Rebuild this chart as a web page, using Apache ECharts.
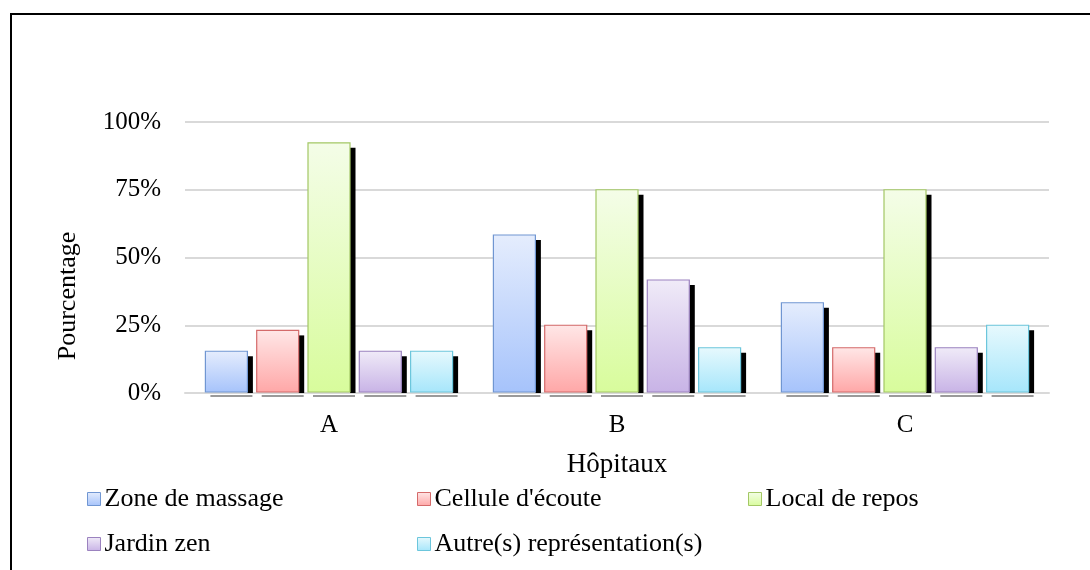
<!DOCTYPE html>
<html>
<head>
<meta charset="utf-8">
<script src="https://cdn.jsdelivr.net/npm/echarts@6/dist/echarts.min.js"></script>
<style>
html,body{margin:0;padding:0;background:#fff;}
#chart{width:1090px;height:570px;}
</style>
</head>
<body>
<div id="chart"></div>
<script>
const categories = ['A', 'B', 'C'];
const seriesNames = ['Zone de massage', "Cellule d'écoute", 'Local de repos', 'Jardin zen', 'Autre(s) représentation(s)'];
const zoneMassage = [0.154, 0.583, 0.333];
const celluleEcoute = [0.231, 0.25, 0.167];
const localRepos = [0.923, 0.75, 0.75];
const jardinZen = [0.154, 0.417, 0.167];
const autres = [0.154, 0.167, 0.25];
const yTicks = [0, 0.25, 0.5, 0.75, 1];

const allValues = [zoneMassage, celluleEcoute, localRepos, jardinZen, autres];
const palette = [
  {top: '#e5edfd', bottom: '#a6c3fb', border: '#7096d2'},
  {top: '#ffe7e7', bottom: '#ffa7a7', border: '#d46a6a'},
  {top: '#f4fde8', bottom: '#d8fc9c', border: '#a3c765'},
  {top: '#f0ebf8', bottom: '#c8b3e6', border: '#9b82bf'},
  {top: '#e7f9fd', bottom: '#a6e6fb', border: '#6cc6dc'}
];
function grad(p) {
  return new echarts.graphic.LinearGradient(0, 0, 0, 1, [
    {offset: 0, color: p.top}, {offset: 1, color: p.bottom}
  ]);
}
const FONT = 'Liberation Serif';
const BAR_FRAC = 42 / 288;
const PITCH_FRAC = 51.3 / 288;

function renderBar(params, api) {
  const i = params.seriesIndex;
  const cat = api.value(0);
  const val = api.value(1);
  const base = api.coord([cat, 0]);
  const top = api.coord([cat, val]);
  const band = api.size([1, 0])[0];
  const w = band * BAR_FRAC;
  const pitch = band * PITCH_FRAC;
  const cx = base[0] + (i - 2) * pitch;
  const x = cx - w / 2;
  const y0 = base[1];
  const y1 = top[1];
  const p = palette[i];
  return {
    type: 'group',
    children: [
      {type: 'rect', shape: {x: x + w, y: y1 + 5, width: 5.5, height: Math.max(0, y0 - y1 - 5)}, style: {fill: '#000'}},
      {type: 'rect', shape: {x: x + 5, y: y0 + 2, width: w, height: 2}, style: {fill: '#9a9a9a'}},
      {type: 'rect', shape: {x: x, y: y1, width: w, height: y0 - y1 - 1}, style: {fill: grad(p), stroke: p.border, lineWidth: 1.2}}
    ]
  };
}

const series = seriesNames.map((name, i) => ({
  type: 'custom',
  name: name,
  renderItem: renderBar,
  itemStyle: {color: grad(palette[i]), borderColor: palette[i].border, borderWidth: 1},
  data: categories.map((c, k) => [k, allValues[i][k]]),
  encode: {x: 0, y: 1},
  z: 3
}));

const legendPos = [[87, 484], [417, 484], [748, 484], [87, 529], [417, 529]];
const legends = seriesNames.map((name, i) => ({
  data: [{name: name, itemStyle: {color: grad(palette[i]), borderColor: palette[i].border, borderWidth: 1}}],
  left: legendPos[i][0],
  top: legendPos[i][1],
  icon: 'rect',
  itemWidth: 13,
  itemHeight: 13,
  itemGap: 0,
  padding: 0,
  selectedMode: false,
  textStyle: {fontFamily: FONT, fontSize: 26, color: '#000', padding: [0, 0, 0, -1], lineHeight: 30}
}));

const chart = echarts.init(document.getElementById('chart'), null, {renderer: 'canvas'});
chart.setOption({
  animation: false,
  backgroundColor: '#fff',
  grid: {left: 185, right: 41, top: 122, bottom: 177},
  xAxis: {
    type: 'category',
    data: categories,
    axisLine: {show: true, lineStyle: {color: '#d9d9d9', width: 2}},
    axisTick: {show: false},
    axisLabel: {fontFamily: FONT, fontSize: 25, color: '#000', margin: 20},
    name: 'Hôpitaux',
    nameLocation: 'middle',
    nameGap: 58,
    nameTextStyle: {fontFamily: FONT, fontSize: 27, color: '#000'}
  },
  yAxis: {
    type: 'value',
    min: 0,
    max: 1,
    interval: 0.25,
    axisLine: {show: false},
    axisTick: {show: false},
    splitLine: {lineStyle: {color: '#d9d9d9', width: 2}},
    axisLabel: {
      fontFamily: FONT, fontSize: 25, color: '#000', margin: 24,
      formatter: v => Math.round(v * 100) + '%'
    }
  },
  legend: legends,
  series: series,
  graphic: [
    {type: 'rect', shape: {x: 11, y: 14, width: 1200, height: 800}, style: {fill: 'none', stroke: '#000', lineWidth: 2}, z: 100, silent: true},
    {type: 'text', x: 68, y: 296, rotation: Math.PI / 2,
     style: {text: 'Pourcentage', font: '26px "Liberation Serif"', fill: '#000', textAlign: 'center', textVerticalAlign: 'middle'}}
  ]
});
</script>
</body>
</html>
